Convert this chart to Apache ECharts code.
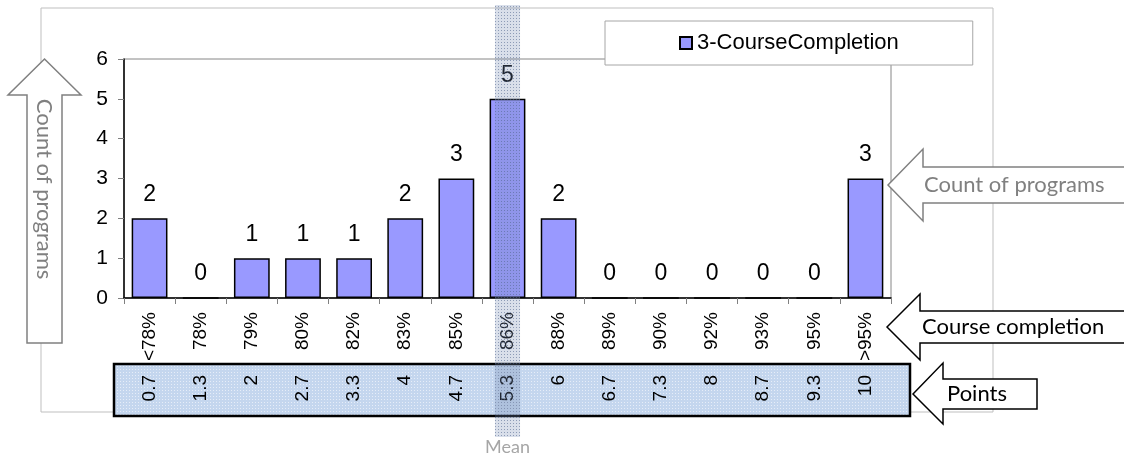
<!DOCTYPE html>
<html>
<head>
<meta charset="utf-8">
<script src="https://cdn.jsdelivr.net/npm/echarts@6/dist/echarts.min.js"></script>
<style>
  html, body { margin: 0; padding: 0; background: #fff; }
  #chart { width: 1124px; height: 456px; }
</style>
</head>
<body>
<div id="chart"></div>
<script>
const categories = ['<78%', '78%', '79%', '80%', '82%', '83%', '85%', '86%', '88%', '89%', '90%', '92%', '93%', '95%', '>95%']
const pointLabels = ['0.7', '1.3', '2', '2.7', '3.3', '4', '4.7', '5.3', '6', '6.7', '7.3', '8', '8.7', '9.3', '10']
const counts = [2, 0, 1, 1, 1, 2, 3, 5, 2, 0, 0, 0, 0, 0, 3]
const yTicks = [0, 1, 2, 3, 4, 5, 6]
const meanCategory = '86%'
const seriesName = '3-CourseCompletion'

const FONT = 'Liberation Sans, Arial, sans-serif'
const CALIBRI = 'Lato, sans-serif'

// small dotted fill, like the office pattern fills
function dots(bg, dot) {
  const c = document.createElement('canvas')
  c.width = 3
  c.height = 3
  const g = c.getContext('2d')
  g.fillStyle = bg
  g.fillRect(0, 0, 3, 3)
  g.fillStyle = dot
  g.fillRect(0, 0, 1, 1)
  return c
}

function arrow(points, stroke, z) {
  return {
    type: 'polygon',
    z: z,
    shape: { points: points },
    style: { fill: '#fff', stroke: stroke, lineWidth: 1.5 }
  }
}

function label(text, x, y, color, opts) {
  return Object.assign({
    type: 'text',
    z: 12,
    x: x,
    y: y,
    style: {
      text: text,
      fill: color,
      fontSize: 22,
      fontFamily: CALIBRI,
      textAlign: 'left',
      textVerticalAlign: 'middle'
    }
  }, opts || {})
}

const chart = echarts.init(document.getElementById('chart'))

const option = {
  animation: false,
  backgroundColor: '#fff',
  grid: {
    left: 124,
    top: 59,
    right: 233,
    bottom: 158,
    show: true,
    borderColor: '#868686',
    borderWidth: 1,
    outerBoundsMode: 'none'
  },
  legend: {
    left: 605,
    top: 21,
    padding: [11, 74],
    backgroundColor: '#fff',
    borderColor: '#a6a6a6',
    borderWidth: 1,
    itemWidth: 12,
    itemHeight: 12,
    icon: 'rect',
    textStyle: { fontSize: 22, fontFamily: FONT, color: '#000' },
    data: [seriesName]
  },
  xAxis: [
    {
      type: 'category',
      data: categories,
      z: 5,
      axisLine: { lineStyle: { color: '#000', width: 1.5 } },
      axisTick: { show: true, length: 6, lineStyle: { color: '#808080' } },
      axisLabel: {
        rotate: 90,
        margin: 14,
        fontSize: 19,
        fontFamily: FONT,
        color: '#000',
        interval: 0
      }
    },
    {
      type: 'category',
      data: pointLabels,
      position: 'bottom',
      offset: 63,
      z: 5,
      axisLine: { show: false },
      axisTick: { show: false },
      axisLabel: {
        rotate: 90,
        margin: 14,
        fontSize: 19,
        fontFamily: FONT,
        color: '#000',
        interval: 0
      }
    }
  ],
  yAxis: {
    type: 'value',
    min: yTicks[0],
    max: yTicks[yTicks.length - 1],
    interval: 1,
    splitLine: { show: false },
    axisLine: { show: true, lineStyle: { color: '#000', width: 1.5 } },
    axisTick: { show: true, length: 6, lineStyle: { color: '#808080' } },
    axisLabel: { margin: 16, fontSize: 21, fontFamily: FONT, color: '#000' }
  },
  series: [
    {
      name: seriesName,
      type: 'bar',
      data: counts,
      barWidth: '70%',
      itemStyle: { color: '#9999ff', borderColor: '#000', borderWidth: 1.5 },
      label: {
        show: true,
        position: 'top',
        distance: 12,
        fontSize: 23,
        fontFamily: FONT,
        color: '#000'
      }
    }
  ],
  graphic: {
    elements: [
      // outer chart area frame
      {
        type: 'rect',
        z: -1,
        shape: { x: 41, y: 8, width: 952, height: 404 },
        style: { fill: 'none', stroke: '#bfbfbf', lineWidth: 1 }
      },
      // points strip
      {
        type: 'rect',
        z: 1,
        shape: { x: 114, y: 364, width: 796, height: 52 },
        style: {
          fill: { image: dots('#c4d6ee', '#e6edf8'), repeat: 'repeat' },
          stroke: '#000',
          lineWidth: 2.5
        }
      },
      arrow([[44.5, 59], [81, 95], [62, 95], [62, 343], [27, 343], [27, 95], [8, 95]], '#808080', 10),
      label('Count of programs', 44.5, 189, '#808080', {
        rotation: -Math.PI / 2,
        style: {
          text: 'Count of programs', fill: '#808080', fontSize: 22, fontFamily: CALIBRI,
          textAlign: 'center', textVerticalAlign: 'middle'
        }
      }),
      arrow([[888, 185], [923, 149], [923, 167], [1130, 167], [1130, 203], [923, 203], [923, 221]], '#808080', 10),
      label('Count of programs', 924, 185, '#808080'),
      arrow([[887, 327], [920, 294], [920, 311], [1130, 311], [1130, 343], [920, 343], [920, 360]], '#000', 10),
      label('Course completion', 922, 327, '#000'),
      arrow([[913, 394], [943, 363], [943, 379], [1037, 379], [1037, 409], [943, 409], [943, 424]], '#000', 10),
      label('Points', 947, 394, '#000')
    ]
  }
}

chart.setOption(option)

// mean band over the mean category
const meanX = chart.convertToPixel({ xAxisIndex: 0 }, meanCategory)
const catW = chart.convertToPixel({ xAxisIndex: 0 }, categories[1]) - chart.convertToPixel({ xAxisIndex: 0 }, categories[0])
const bandW = catW * 0.49

chart.setOption({
  graphic: {
    elements: [
      {
        type: 'rect',
        id: 'meanBand',
        z: 100,
        shape: { x: meanX - bandW / 2, y: 5, width: bandW, height: 432 },
        style: { fill: { image: dots('rgba(120,140,180,0.28)', 'rgba(80,100,140,0.55)'), repeat: 'repeat' } }
      },
      {
        type: 'text',
        id: 'meanText',
        z: 100,
        x: meanX,
        y: 447,
        style: {
          text: 'Mean', fill: '#a6a6a6', fontSize: 18, fontFamily: CALIBRI,
          textAlign: 'center', textVerticalAlign: 'middle'
        }
      }
    ]
  }
})
</script>
</body>
</html>
